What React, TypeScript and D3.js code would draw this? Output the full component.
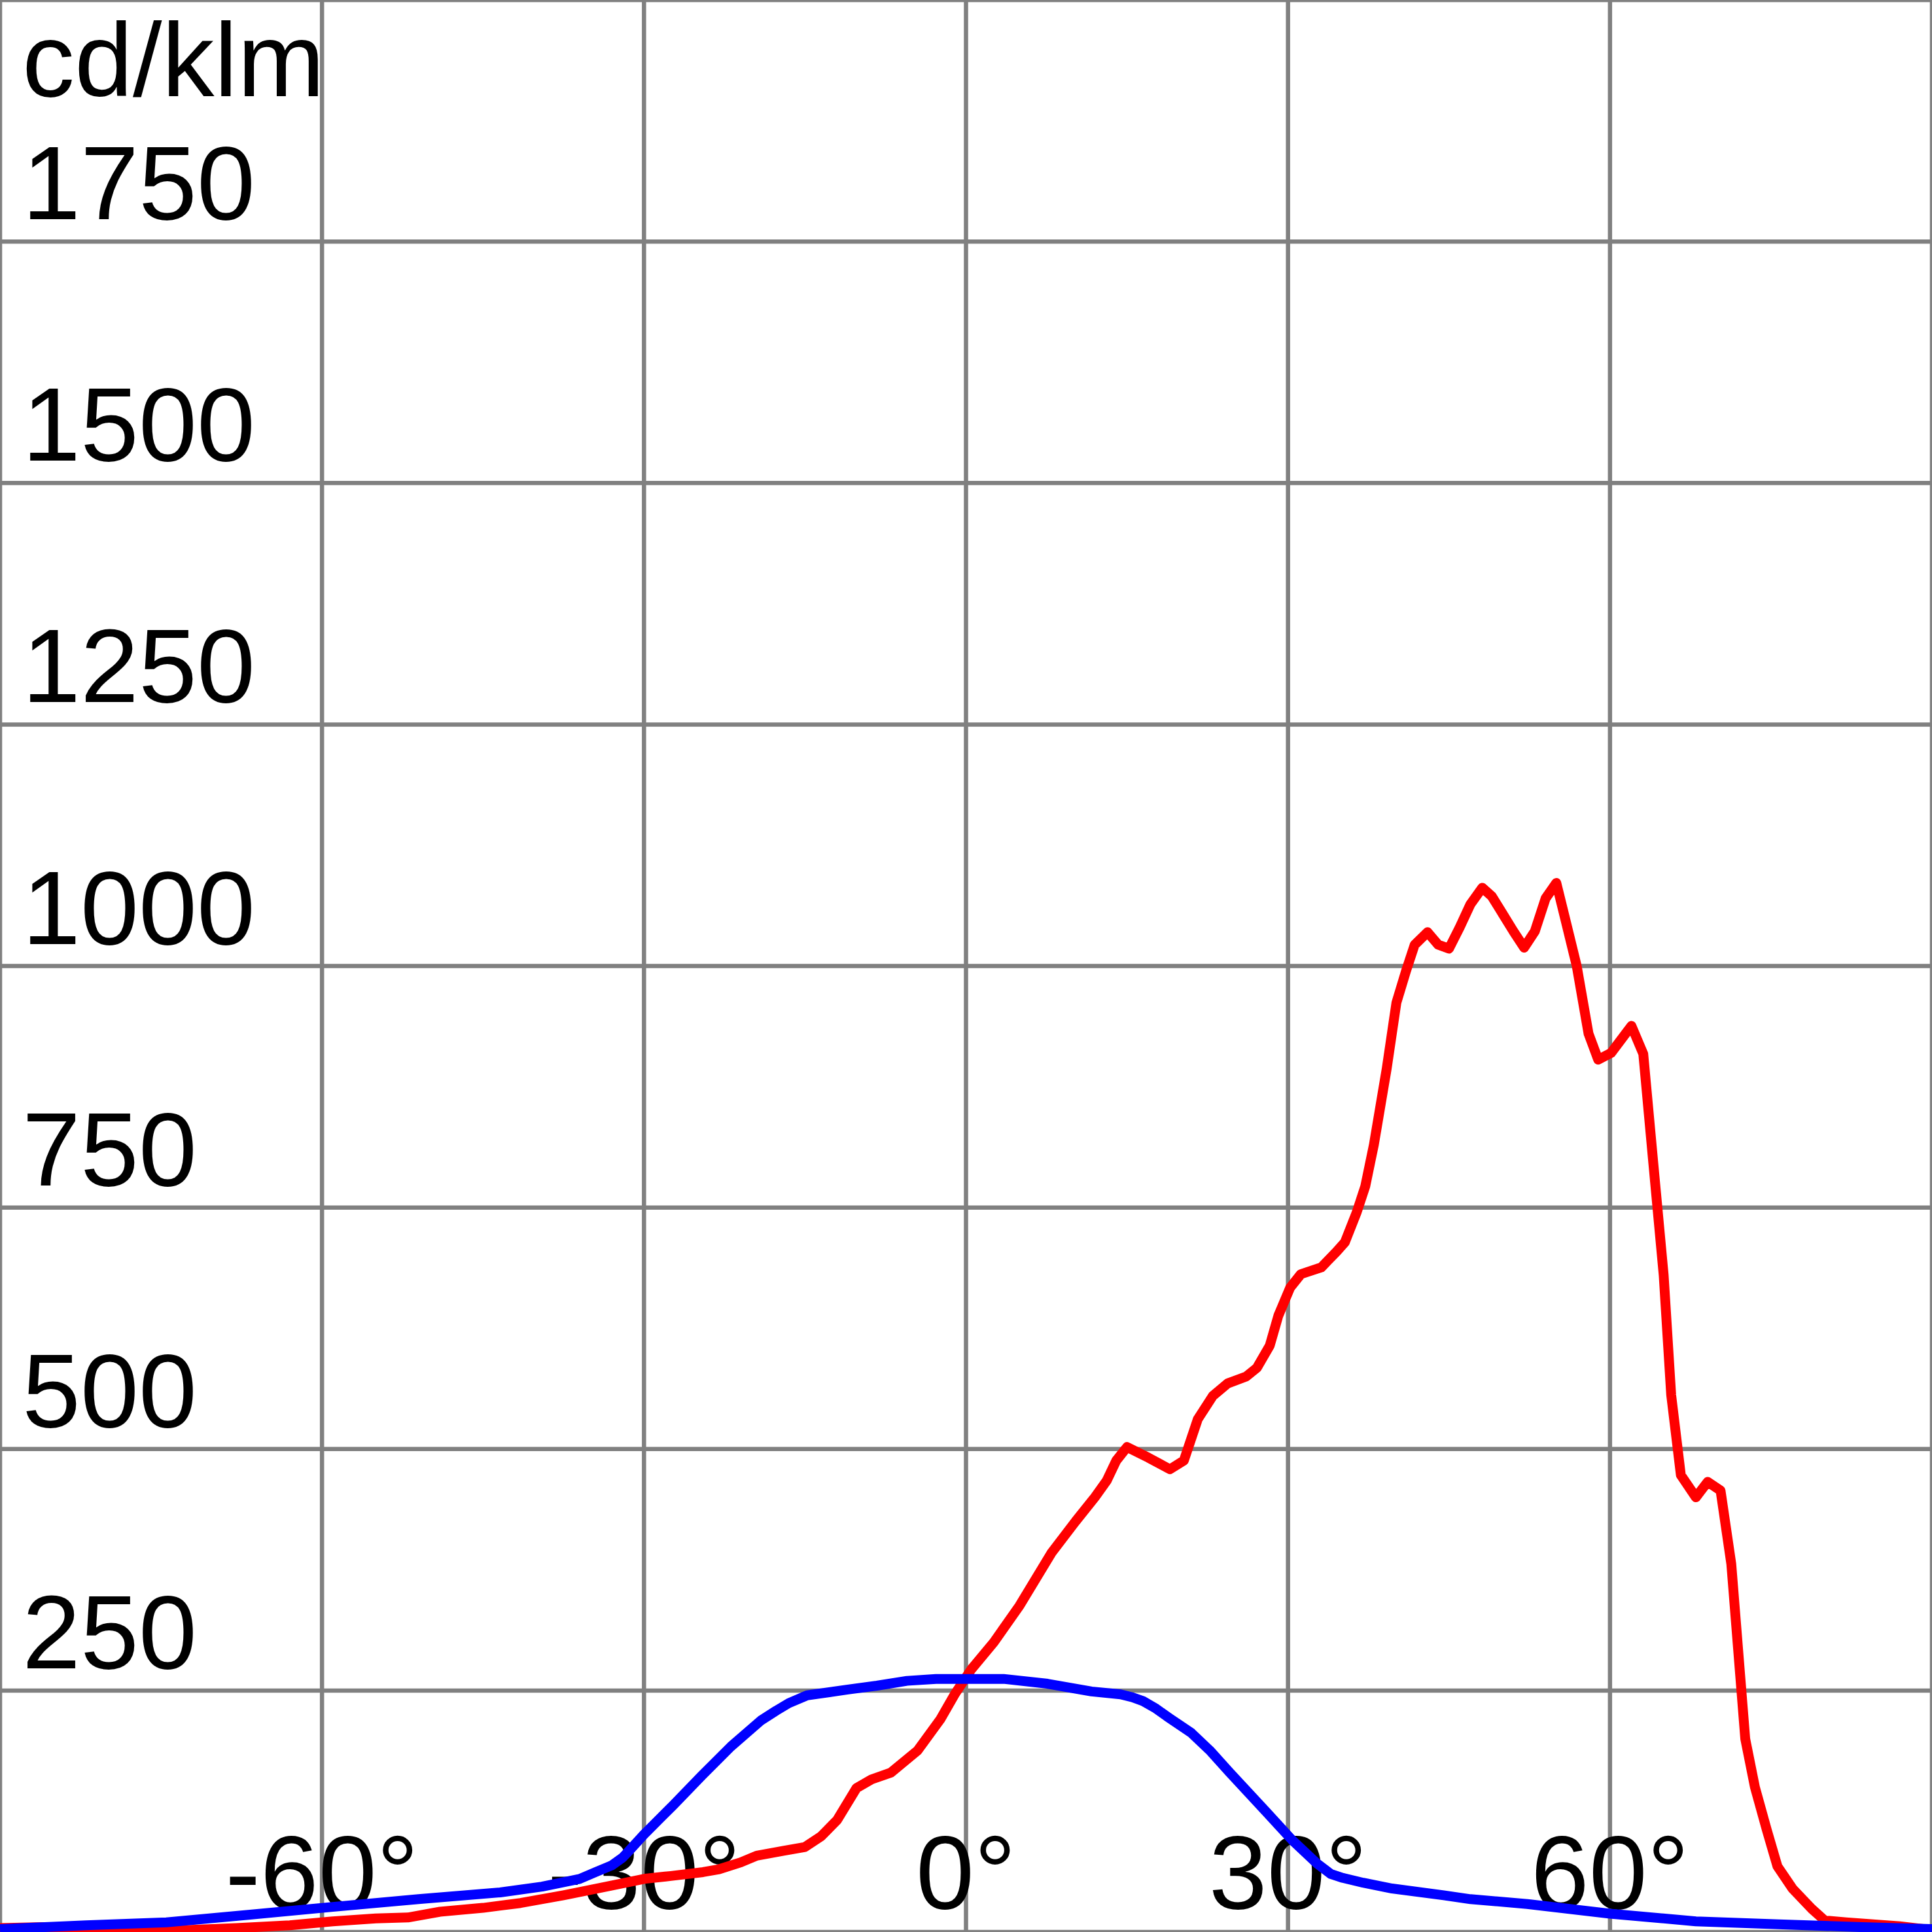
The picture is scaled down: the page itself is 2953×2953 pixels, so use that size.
import { useEffect, useRef } from "react";
import * as d3 from "d3";

const W = 2953;
const H = 2953;

// red curve (C0-C180 plane)
const redAngles = [
  -90, -86, -80, -72.5, -68, -63, -59, -55, -52, -49, -45, -41.5, -37.5, -33.5, -30,
  -27.5, -24.5, -23, -21, -19.5, -17, -15, -13.5, -12, -10.2, -8.8, -7, -4.5, -2.4, -1,
  0.5, 2.6, 5, 8, 10.2, 12, 13.1, 14, 15, 17, 19, 20.3, 21.6, 23, 24.4, 26.1, 27.1,
  28.3, 29.1, 30.2, 31.2, 33.1, 34.5, 35.3, 36.4, 37.2, 38, 39.2, 40.1, 41, 41.8, 43,
  44, 45, 46, 47, 48.1, 49, 50, 51, 52, 53, 54, 55, 55.8, 56.9, 58, 58.9, 60.1, 62,
  63.1, 64, 65, 65.7, 66.6, 68, 69.1, 70.3, 71.3, 72.6, 73.5, 74.6, 75.6, 77, 78.8, 80,
  82, 84.5, 87, 90,
];
const redValues = [
  4, 5, 3, 2, 4, 7, 11, 14, 15, 21, 25, 30, 38, 47, 55,
  58, 62, 65, 72, 79, 84, 88, 99, 116, 149, 158, 165, 188, 220, 247,
  272, 300, 338, 393, 425, 450, 467, 488, 502, 491, 479, 488, 531, 555, 568, 575, 584,
  607, 638, 667, 681, 688, 704, 714, 745, 772, 815, 894, 962, 995, 1022, 1035,
  1022, 1018, 1040, 1064, 1081, 1072, 1054, 1036, 1019, 1036, 1070, 1086, 1050, 1000, 930, 903, 910, 938,
  909, 800, 680, 556, 473, 450, 466, 457, 381, 200, 150, 106, 68, 45, 24, 12,
  10, 8, 6, 2,
];

// blue curve (C90-C270 plane)
const blueAngles = [
  -90, -82, -74.5, -66.7, -59, -51, -43.4, -39.5, -36, -34.5, -33, -32, -31.4, -30,
  -27.3, -24.6, -21.9, -19.1, -17.7, -16.5, -14.8, -11, -8.3, -5.5, -2.8, 0, 3.5, 7.6,
  11.7, 14.4, 15.5, 16.5, 17.6, 19, 21, 22.8, 24.5, 28, 30.4, 32.7, 34, 35.1, 37, 39.7,
  44.5, 47, 52.3, 60, 68, 75.7, 83.5, 90,
];
const blueValues = [
  3, 7, 10, 18, 26, 34, 41, 47, 55, 62, 69, 77, 84, 101,
  131, 162, 192, 219, 229, 237, 245, 251, 255, 260, 262, 262, 262, 257,
  249, 246, 243, 239, 232, 221, 206, 187, 166, 124, 95, 71, 60, 56, 51, 45,
  38, 34, 29, 19, 11, 8, 5, 3,
];

const xTicks = [-60, -30, 0, 30, 60];
const yTicks = [250, 500, 750, 1000, 1250, 1500, 1750];
const unitLabel = "cd/klm";

export default function App() {
  const ref = useRef<SVGSVGElement | null>(null);

  useEffect(() => {
    if (!ref.current) return;
    const svg = d3.select(ref.current);
    svg.selectAll("*").remove();

    const x = d3.scaleLinear().domain([-90, 90]).range([0, W]);
    const y = d3.scaleLinear().domain([0, 2000]).range([H, 0]);
    const grid = "#808080";
    const font = "'Liberation Sans', Arial, sans-serif";

    svg.append("rect").attr("width", W).attr("height", H).attr("fill", "#fff");

    // grid
    const g = svg.append("g").attr("stroke", grid).attr("stroke-width", 6.5);
    g.selectAll("line.v")
      .data(xTicks)
      .join("line")
      .attr("class", "v")
      .attr("x1", (d) => x(d))
      .attr("x2", (d) => x(d))
      .attr("y1", 0)
      .attr("y2", H);
    g.selectAll("line.h")
      .data(yTicks)
      .join("line")
      .attr("class", "h")
      .attr("x1", 0)
      .attr("x2", W)
      .attr("y1", (d) => y(d))
      .attr("y2", (d) => y(d));

    svg
      .append("rect")
      .attr("x", 0)
      .attr("y", 0)
      .attr("width", W)
      .attr("height", H)
      .attr("fill", "none")
      .attr("stroke", grid)
      .attr("stroke-width", 6.5);

    // labels
    const labels = svg
      .append("g")
      .attr("font-family", font)
      .attr("font-size", 160)
      .attr("fill", "#000");

    labels.append("text").attr("x", 34).attr("y", 147).text(unitLabel);

    labels
      .selectAll("text.y")
      .data(yTicks)
      .join("text")
      .attr("class", "y")
      .attr("x", 34)
      .attr("y", (d) => y(d) - 34)
      .text((d) => String(d));

    labels
      .selectAll("text.x")
      .data(xTicks)
      .join("text")
      .attr("class", "x")
      .attr("x", (d) => x(d))
      .attr("y", 2917)
      .attr("text-anchor", "middle")
      .text((d) => `${d}°`);

    // curves
    const line = d3
      .line<[number, number]>()
      .x((d) => x(d[0]))
      .y((d) => y(d[1]));

    const red = redAngles.map((a, i) => [a, redValues[i]] as [number, number]);
    const blue = blueAngles.map((a, i) => [a, blueValues[i]] as [number, number]);

    svg
      .append("path")
      .datum(red)
      .attr("d", line)
      .attr("fill", "none")
      .attr("stroke", "#ff0000")
      .attr("stroke-width", 15)
      .attr("stroke-linejoin", "round");

    svg
      .append("path")
      .datum(blue)
      .attr("d", line)
      .attr("fill", "none")
      .attr("stroke", "#0000ff")
      .attr("stroke-width", 15)
      .attr("stroke-linejoin", "round");
  }, []);

  return (
    <svg
      ref={ref}
      width={W}
      height={H}
      style={{ position: "absolute", left: 0, top: 0, display: "block" }}
    />
  );
}
